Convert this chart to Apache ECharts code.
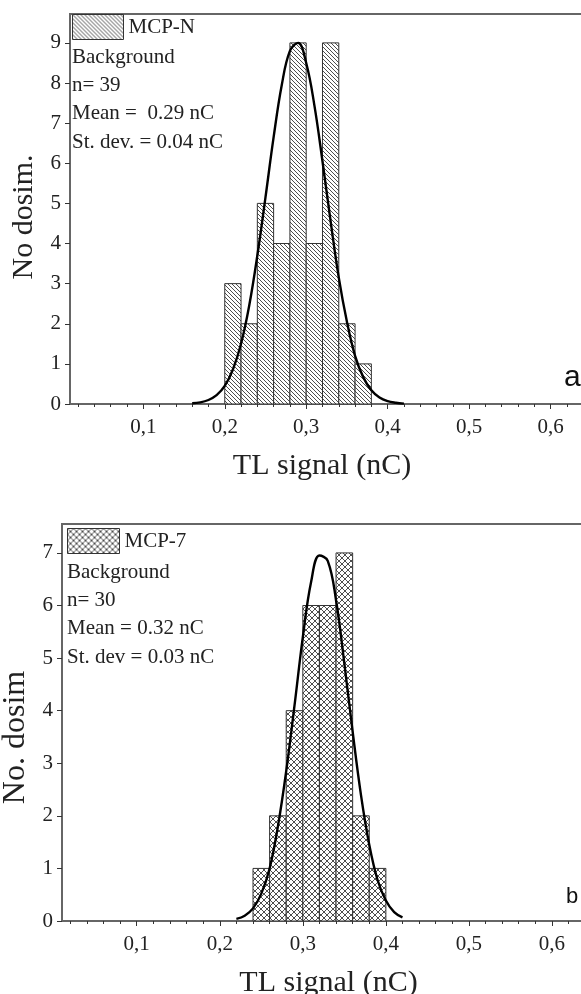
<!DOCTYPE html>
<html lang="en">
<head>
    <meta charset="UTF-8">
    <title>TL background histograms</title>
    <script src="https://cdn.jsdelivr.net/npm/echarts@6/dist/echarts.min.js"></script>
    <style>
        html, body { margin: 0; padding: 0; background: #fff; }
        #main { width: 581px; height: 994px; }
    </style>
</head>
<body>
<div id="main"></div>
<script>
    // bin width of both histograms (nC)
    var binWidth = 0.02;

    // panel a - MCP-N
    var binsA   = [0.20, 0.22, 0.24, 0.26, 0.28, 0.30, 0.32, 0.34, 0.36];
    var countsA = [3, 2, 5, 4, 9, 4, 9, 2, 1];
    var fitXA = [0.16, 0.17, 0.18, 0.19, 0.20, 0.21, 0.22, 0.23, 0.24, 0.25, 0.26, 0.27, 0.28, 0.29,
                 0.30, 0.31, 0.32, 0.33, 0.34, 0.35, 0.36, 0.37, 0.38, 0.39, 0.40, 0.41, 0.42];
    var fitYA = [0.02, 0.04, 0.10, 0.22, 0.45, 0.86, 1.5, 2.45, 3.7, 5.15, 6.65, 7.95, 8.8, 9.0,
                 8.5, 7.45, 6.05, 4.55, 3.15, 2.05, 1.2, 0.67, 0.34, 0.16, 0.07, 0.03, 0.01];
    var yTicksA = [0, 1, 2, 3, 4, 5, 6, 7, 8, 9];
    var infoA = ['Background', 'n= 39', 'Mean =  0.29 nC', 'St. dev. = 0.04 nC'];

    // panel b - MCP-7
    var binsB   = [0.24, 0.26, 0.28, 0.30, 0.32, 0.34, 0.36, 0.38];
    var countsB = [1, 2, 4, 6, 6, 7, 2, 1];
    var fitXB = [0.22, 0.23, 0.24, 0.25, 0.26, 0.27, 0.28, 0.29, 0.30, 0.31, 0.32,
                 0.33, 0.34, 0.35, 0.36, 0.37, 0.38, 0.39, 0.40, 0.41, 0.42];
    var fitYB = [0.04, 0.10, 0.24, 0.52, 1.0, 1.8, 2.85, 4.1, 5.4, 6.45, 6.95,
                 6.85, 6.1, 4.9, 3.6, 2.4, 1.45, 0.78, 0.39, 0.17, 0.07];
    var yTicksB = [0, 1, 2, 3, 4, 5, 6, 7];
    var infoB = ['Background', 'n= 30', 'Mean = 0.32 nC', 'St. dev = 0.03 nC'];

    var xTicks = [0.1, 0.2, 0.3, 0.4, 0.5, 0.6];
    var xMinor = [0.02, 0.04, 0.06, 0.08, 0.12, 0.14, 0.16, 0.18, 0.22, 0.24, 0.26, 0.28,
                  0.32, 0.34, 0.36, 0.38, 0.42, 0.44, 0.46, 0.48, 0.52, 0.54, 0.56, 0.58,
                  0.62, 0.64, 0.66, 0.68];

    var serif = '"Liberation Serif", "Times New Roman", serif';
    var frame = '#666';

    // hatch tiles for the bars
    function hatch(p, cross) {
        var c = document.createElement('canvas');
        c.width = p; c.height = p;
        var g = c.getContext('2d');
        g.fillStyle = '#fff';
        g.fillRect(0, 0, p, p);
        g.strokeStyle = '#3a3a3a';
        g.lineWidth = 0.9;
        g.beginPath();
        for (var k = -p; k <= p; k += p) {
            g.moveTo(k, 0); g.lineTo(k + p, p);
            if (cross) { g.moveTo(k + p, 0); g.lineTo(k, p); }
        }
        g.stroke();
        return { image: c, repeat: 'repeat' };
    }
    var patA = hatch(4, false);
    var patB = hatch(6, true);

    function histRender(pattern) {
        return function (params, api) {
            var x0 = api.value(0), n = api.value(1);
            var p0 = api.coord([x0, n]);
            var p1 = api.coord([x0 + binWidth, 0]);
            return {
                type: 'rect',
                shape: { x: p0[0], y: p0[1], width: p1[0] - p0[0], height: p1[1] - p0[1] },
                style: { fill: pattern, stroke: '#333', lineWidth: 1 }
            };
        };
    }

    function pairs(xs, ys) {
        return xs.map(function (x, i) { return [x, ys[i]]; });
    }

    function xAxisFor(idx, padRight) {
        return {
            type: 'value', gridIndex: idx, min: 0.01, max: 0.7,
            axisLine: { lineStyle: { color: frame, width: 2 } },
            axisTick: { customValues: xTicks, length: 5, lineStyle: { color: '#333' } },
            axisLabel: {
                customValues: xTicks, margin: 13, color: '#222',
                fontFamily: serif, fontSize: 21,
                formatter: function (v) { return v.toFixed(1).replace('.', ','); }
            },
            splitLine: { show: false },
            name: 'TL signal (nC)', nameLocation: 'middle', nameGap: 47,
            nameTextStyle: { fontFamily: serif, fontSize: 30, color: '#222', padding: [0, padRight, 0, 0] }
        };
    }
    function xMinorFor(idx) {
        return {
            type: 'value', gridIndex: idx, min: 0.01, max: 0.7, position: 'bottom', offset: 0,
            axisLine: { show: false },
            axisTick: { customValues: xMinor, length: 3, lineStyle: { color: '#333' } },
            axisLabel: { show: false },
            splitLine: { show: false }
        };
    }
    function yAxisFor(idx, max, ticks, name, gap, size, padRight) {
        return {
            type: 'value', gridIndex: idx, min: 0, max: max,
            axisLine: { show: true, lineStyle: { color: frame, width: 2 } },
            axisTick: { show: true, customValues: ticks, length: 5, lineStyle: { color: '#333' } },
            axisLabel: { customValues: ticks, margin: 9, color: '#222', fontFamily: serif, fontSize: 21 },
            splitLine: { show: false },
            name: name, nameLocation: 'middle', nameGap: gap,
            nameTextStyle: { fontFamily: serif, fontSize: size, color: '#222', padding: [0, padRight, 0, 0] }
        };
    }

    var myChart = echarts.init(document.getElementById('main'));

    var option = {
        backgroundColor: '#fff',
        animation: false,
        grid: [
            { left: 70, width: 562, top: 14, height: 390, outerBoundsMode: 'none',
              show: true, borderColor: frame, borderWidth: 2 },
            { left: 62, width: 573, top: 524, height: 397, outerBoundsMode: 'none',
              show: true, borderColor: frame, borderWidth: 2 }
        ],
        xAxis: [xAxisFor(0, 58), xAxisFor(1, 40), xMinorFor(0), xMinorFor(1)],
        yAxis: [
            yAxisFor(0, 9.72, yTicksA, 'No dosim.', 30, 30, 16),
            yAxisFor(1, 7.55, yTicksB, 'No. dosim', 30, 32, 30)
        ],
        legend: [
            {
                left: 72, top: 14, padding: 0, itemWidth: 51, itemHeight: 25, itemGap: 5,
                selectedMode: false,
                textStyle: { fontFamily: serif, fontSize: 21, color: '#222' },
                data: [{ name: 'MCP-N', icon: 'rect',
                         itemStyle: { color: patA, borderColor: '#333', borderWidth: 1 } }]
            },
            {
                left: 67, top: 528, padding: 0, itemWidth: 52, itemHeight: 25, itemGap: 5,
                selectedMode: false,
                textStyle: { fontFamily: serif, fontSize: 21, color: '#222' },
                data: [{ name: 'MCP-7', icon: 'rect',
                         itemStyle: { color: patB, borderColor: '#333', borderWidth: 1 } }]
            }
        ],
        graphic: [
            { type: 'text', left: 72, top: 43,
              style: { text: infoA.join('\n'), font: '21px ' + serif, lineHeight: 28.3, fill: '#222' } },
            { type: 'text', left: 67, top: 558,
              style: { text: infoB.join('\n'), font: '21px ' + serif, lineHeight: 28.3, fill: '#222' } },
            { type: 'text', left: 564, top: 363,
              style: { text: 'a', font: '30px "Liberation Sans", Arial, sans-serif', fill: '#111' } },
            { type: 'text', left: 566, top: 886,
              style: { text: 'b', font: '22px "Liberation Sans", Arial, sans-serif', fill: '#111' } }
        ],
        series: [
            {
                name: 'MCP-N', type: 'custom', xAxisIndex: 0, yAxisIndex: 0,
                renderItem: histRender(patA), encode: { x: 0, y: 1 },
                itemStyle: { color: patA, borderColor: '#333' },
                data: pairs(binsA, countsA)
            },
            {
                name: 'fit a', type: 'line', xAxisIndex: 0, yAxisIndex: 0,
                smooth: 0.4, showSymbol: false, z: 5,
                lineStyle: { color: '#000', width: 2.4 },
                data: pairs(fitXA, fitYA)
            },
            {
                name: 'MCP-7', type: 'custom', xAxisIndex: 1, yAxisIndex: 1,
                renderItem: histRender(patB), encode: { x: 0, y: 1 },
                itemStyle: { color: patB, borderColor: '#333' },
                data: pairs(binsB, countsB)
            },
            {
                name: 'fit b', type: 'line', xAxisIndex: 1, yAxisIndex: 1,
                smooth: 0.4, showSymbol: false, z: 5,
                lineStyle: { color: '#000', width: 2.4 },
                data: pairs(fitXB, fitYB)
            }
        ]
    };
    myChart.setOption(option);
</script>
</body>
</html>
